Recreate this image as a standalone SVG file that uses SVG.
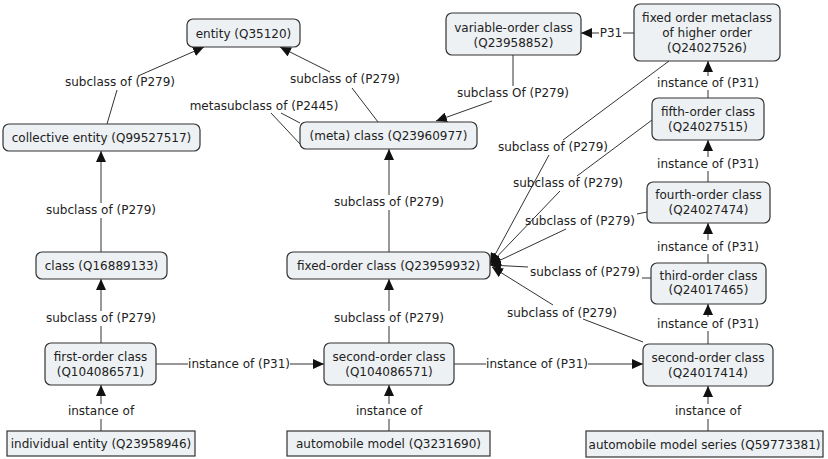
<svg xmlns="http://www.w3.org/2000/svg" width="828" height="459" viewBox="0 0 828 459">
<style>
.n{fill:#edf1f4;stroke:#333;stroke-width:1.2}
.t{font-family:"DejaVu Sans",Verdana,sans-serif;font-size:12px;fill:#222;text-anchor:middle}
.c{stroke:#333;stroke-width:1;fill:none}
.a{marker-end:url(#ah)}
</style>
<defs>
<marker id="ah" markerUnits="userSpaceOnUse" markerWidth="11" markerHeight="10" refX="11" refY="5" orient="auto">
<path d="M0,0 L11,5 L0,10 z" fill="#111"/>
</marker>
</defs>
<rect width="828" height="459" fill="#fff"/>
<g id="connectors">
<!-- collective -> entity -->
<path class="c" d="M107,124 L117,90"/><path class="c a" d="M138,76 L204,47"/>
<text class="t" x="120" y="86">subclass of (P279)</text>
<!-- meta -> entity -->
<path class="c" d="M378,122 L352,88"/><path class="c a" d="M330,72 L280,47"/>
<text class="t" x="345" y="83">subclass of (P279)</text>
<!-- metasubclass -->
<path class="c" d="M271,113 L301,145"/><path class="c" d="M281,113 L300,123"/>
<text class="t" x="264" y="110">metasubclass of (P2445)</text>
<!-- variable -> meta -->
<path class="c" d="M513,55 L513,86"/><path class="c a" d="M492,101 L436,121"/>
<text class="t" x="513" y="97">subclass Of (P279)</text>
<!-- metaclass -> variable P31 -->
<path class="c" d="M634,33 L623,33"/><path class="c a" d="M599,33 L581,33"/>
<text class="t" x="611" y="37">P31</text>
<!-- class -> collective -->
<path class="c" d="M101,252 L101,218"/><path class="c a" d="M101,203 L101,151"/>
<text class="t" x="101" y="214">subclass of (P279)</text>
<!-- first -> class -->
<path class="c" d="M101,343 L101,326"/><path class="c a" d="M101,311 L101,279"/>
<text class="t" x="101" y="322">subclass of (P279)</text>
<!-- individual -> first -->
<path class="c" d="M101,431 L101,419"/><path class="c a" d="M101,404 L101,385"/>
<text class="t" x="101" y="415">instance of</text>
<!-- fixed-order -> meta -->
<path class="c" d="M389,252 L389,210"/><path class="c a" d="M389,195 L389,149"/>
<text class="t" x="389" y="206">subclass of (P279)</text>
<!-- second-middle -> fixed-order -->
<path class="c" d="M389,343 L389,326"/><path class="c a" d="M389,311 L389,279"/>
<text class="t" x="389" y="322">subclass of (P279)</text>
<!-- auto model -> second-middle -->
<path class="c" d="M389,431 L389,419"/><path class="c a" d="M389,404 L389,385"/>
<text class="t" x="389" y="415">instance of</text>
<!-- first -> second-middle -->
<path class="c" d="M156,364 L188,364"/><path class="c a" d="M290,364 L324,364"/>
<text class="t" x="239" y="368">instance of (P31)</text>
<!-- second-middle -> second-right -->
<path class="c" d="M454,364 L486,364"/><path class="c a" d="M588,364 L643,364"/>
<text class="t" x="537" y="368">instance of (P31)</text>
<!-- vertical chain right -->
<path class="c" d="M708,431 L708,419"/><path class="c a" d="M708,404 L708,386"/>
<text class="t" x="708" y="415">instance of</text>
<path class="c" d="M708,344 L708,331"/><path class="c a" d="M708,317 L708,304"/>
<text class="t" x="708" y="328">instance of (P31)</text>
<path class="c" d="M708,263 L708,254"/><path class="c a" d="M708,240 L708,223"/>
<text class="t" x="708" y="251">instance of (P31)</text>
<path class="c" d="M708,182 L708,171"/><path class="c a" d="M708,157 L708,140"/>
<text class="t" x="708" y="168">instance of (P31)</text>
<path class="c" d="M708,98 L708,90"/><path class="c a" d="M708,76 L708,61"/>
<text class="t" x="708" y="87">instance of (P31)</text>
<!-- fan into fixed-order -->
<path class="c" d="M669,61 L563,140"/><path class="c a" d="M549,155 L490,264"/>
<text class="t" x="553" y="151">subclass of (P279)</text>
<path class="c" d="M652,120 L577,176"/><path class="c a" d="M560,191 L490,264"/>
<text class="t" x="568" y="187">subclass of (P279)</text>
<path class="c" d="M647,212 L637,214"/><path class="c a" d="M566,229 L490,265"/>
<text class="t" x="580" y="225">subclass of (P279)</text>
<path class="c" d="M651,278 L642,278"/><path class="c a" d="M528,267 L490,265"/>
<text class="t" x="585" y="276">subclass of (P279)</text>
<path class="c" d="M643,342 L583,319"/><path class="c a" d="M553,305 L492,267"/>
<text class="t" x="562" y="317">subclass of (P279)</text>
</g>
<g id="entity"><rect class="n" x="187" y="19" width="113" height="28" rx="6"/><text class="t" x="243.5" y="37.5">entity (Q35120)</text></g>
<g id="collective"><rect class="n" x="3" y="124" width="197" height="27" rx="6"/><text class="t" x="101.5" y="142">collective entity (Q99527517)</text></g>
<g id="metaclass"><rect class="n" x="300" y="122" width="177" height="27" rx="6"/><text class="t" x="388.5" y="140">(meta) class (Q23960977)</text></g>
<g id="variable"><rect class="n" x="446" y="13" width="135" height="42" rx="6"/><text class="t" x="513.5" y="31.5">variable-order class</text><text class="t" x="513.5" y="46.5">(Q23958852)</text></g>
<g id="fixedmeta"><rect class="n" x="634" y="4" width="146" height="57" rx="6"/><text class="t" x="707" y="21.5">fixed order metaclass</text><text class="t" x="707" y="36.5">of higher order</text><text class="t" x="707" y="51.5">(Q24027526)</text></g>
<g id="fifth"><rect class="n" x="652" y="98" width="112" height="42" rx="6"/><text class="t" x="708" y="115.5">fifth-order class</text><text class="t" x="708" y="130.5">(Q24027515)</text></g>
<g id="fourth"><rect class="n" x="647" y="182" width="123" height="41" rx="6"/><text class="t" x="708.5" y="198.5">fourth-order class</text><text class="t" x="708.5" y="213.5">(Q24027474)</text></g>
<g id="third"><rect class="n" x="651" y="263" width="115" height="41" rx="6"/><text class="t" x="708.5" y="280">third-order class</text><text class="t" x="708.5" y="294">(Q24017465)</text></g>
<g id="secondright"><rect class="n" x="643" y="344" width="130" height="42" rx="6"/><text class="t" x="708" y="361.5">second-order class</text><text class="t" x="708" y="376.5">(Q24017414)</text></g>
<g id="series"><rect class="n" x="586" y="431" width="237" height="26"/><text class="t" x="704.5" y="448.5">automobile model series (Q59773381)</text></g>
<g id="class"><rect class="n" x="36" y="252" width="131" height="27" rx="6"/><text class="t" x="101.5" y="270">class (Q16889133)</text></g>
<g id="fixedorder"><rect class="n" x="287" y="252" width="203" height="27" rx="6"/><text class="t" x="388.5" y="270">fixed-order class (Q23959932)</text></g>
<g id="first"><rect class="n" x="45" y="343" width="111" height="42" rx="6"/><text class="t" x="100.5" y="360.5">first-order class</text><text class="t" x="100.5" y="375.5">(Q104086571)</text></g>
<g id="secondmid"><rect class="n" x="324" y="343" width="130" height="42" rx="6"/><text class="t" x="389" y="360.5">second-order class</text><text class="t" x="389" y="375.5">(Q104086571)</text></g>
<g id="individual"><rect class="n" x="7" y="431" width="188" height="25"/><text class="t" x="101" y="448">individual entity (Q23958946)</text></g>
<g id="automodel"><rect class="n" x="287" y="431" width="203" height="25"/><text class="t" x="388.5" y="448">automobile model (Q3231690)</text></g>
</svg>
